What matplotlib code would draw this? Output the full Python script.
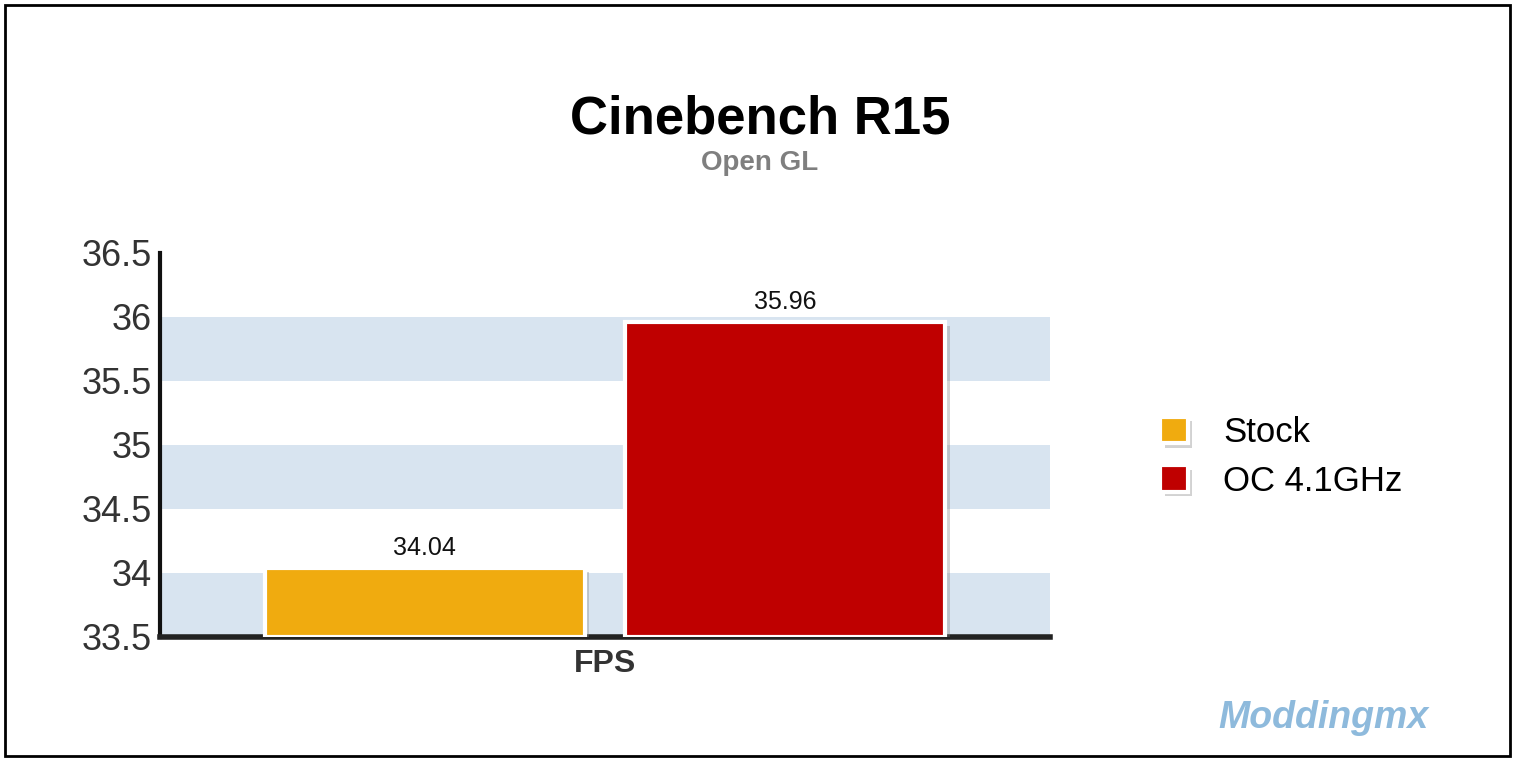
import matplotlib
matplotlib.use("Agg")
import matplotlib.pyplot as plt
import matplotlib.patheffects as pe
from matplotlib.patches import Rectangle

plt.rcParams['font.family'] = ['Liberation Sans', 'DejaVu Sans']

title = "Cinebench R15"
subtitle = "Open GL"
category = "FPS"
series_names = ["Stock", "OC 4.1GHz"]
series_values = [34.04, 35.96]
series_colors = ["#f0ab0f", "#bf0000"]
y_ticks = [33.5, 34, 34.5, 35, 35.5, 36, 36.5]

fig = plt.figure(figsize=(15.15, 7.6), dpi=100)
ax = fig.add_axes([160/1515, 1-637/760, (1050-160)/1515, (637-253)/760])

# alternating bands
for lo in [33.5, 34.5, 35.5]:
    ax.axhspan(lo, lo + 0.5, color="#d8e4f0", zorder=0, lw=0)

offsets = [-0.2025, 0.2025]
width = 0.36
shadow = [pe.SimplePatchShadow(offset=(3, -3), shadow_rgbFace="#808080", alpha=0.35), pe.Normal()]
for name, v, c, off in zip(series_names, series_values, series_colors, offsets):
    bars = ax.bar(0.5 + off, v - 33.5, width=width, bottom=33.5, color=c,
                  edgecolor="white", linewidth=3, label=name, zorder=3)
    for b in bars:
        b.set_path_effects(shadow)
    ax.text(0.5 + off, v + 0.06, f"{v:.2f}", ha="center", va="bottom",
            fontsize=18, color="#111111", zorder=4)

ax.set_xlim(0, 1)
ax.set_ylim(33.5, 36.5)
ax.set_yticks(y_ticks)
ax.set_yticklabels([f"{t:g}" for t in y_ticks], fontsize=26, color="#333333")
ax.set_xticks([0.5])
ax.set_xticklabels([category], fontsize=23, fontweight="bold", color="#333333")
ax.tick_params(axis="both", length=0, pad=6)
ax.tick_params(axis="x", pad=9)
for s in ["top", "right"]:
    ax.spines[s].set_visible(False)
ax.spines["left"].set_linewidth(3)
ax.spines["left"].set_color("#111111")
ax.spines["bottom"].set_linewidth(4)
ax.spines["bottom"].set_color("#222222")
ax.set_facecolor("white")

fig.text(760/1515, 1-120/760, title, ha="center", va="center", fontsize=38,
         fontweight="bold", color="black")
fig.text(760/1515, 1-163/760, subtitle, ha="center", va="center", fontsize=20,
         fontweight="bold", color="#7f7f7f")

leg = fig.legend(loc="center left", bbox_to_anchor=(1150/1515, 1-457/760), frameon=False,
                 fontsize=25, handlelength=0.8, handleheight=0.8, labelspacing=0.45,
                 handletextpad=1.0, borderaxespad=0, borderpad=0.3)
for h in leg.legend_handles:
    h.set_path_effects(shadow)
    h.set_edgecolor("white")

# watermark
fig.text(1218/1515, 1-718/760, "Moddingmx", ha="left", va="center", fontsize=27,
         fontweight="bold", fontstyle="italic", color="#7aaed6", alpha=0.85)

# outer border
fig.patches.append(Rectangle((5/1515, 4/760), 1505/1515, 751/760, transform=fig.transFigure,
                             fill=False, edgecolor="black", linewidth=2))

fig.savefig("out.png", dpi=100)
